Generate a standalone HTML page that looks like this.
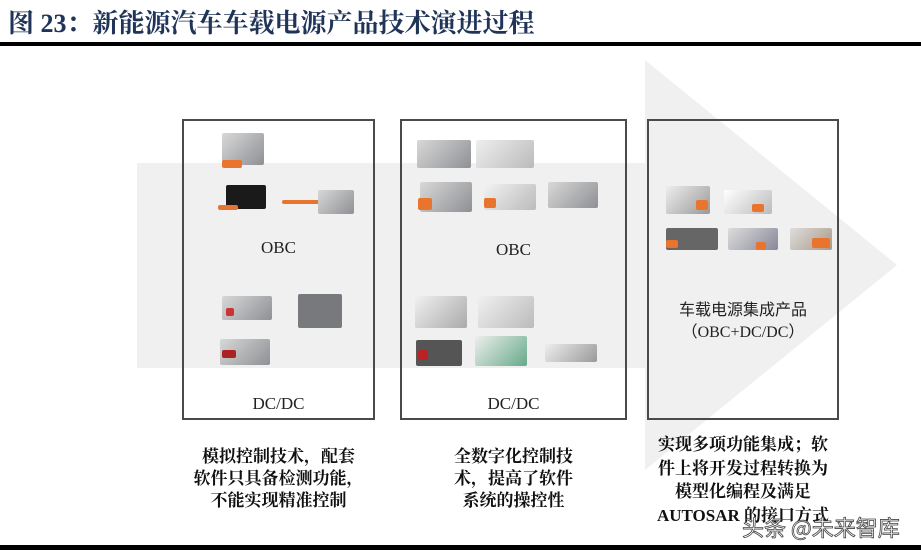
<!DOCTYPE html>
<html><head><meta charset="utf-8"><style>
body{margin:0;width:921px;height:556px;background:#fff;position:relative;overflow:hidden;font-family:"Liberation Serif","Noto Serif CJK SC",serif}
.a{position:absolute}
.box{position:absolute;border:2px solid #4a4a4a;box-sizing:border-box}
.t{position:absolute;text-align:center;color:#222;font-size:17px}
.cap{position:absolute;text-align:center;font-weight:bold;font-size:17px;line-height:22px;color:#111;font-family:"Liberation Serif","Noto Serif CJK SC",serif;white-space:nowrap}
.p{position:absolute;background:linear-gradient(135deg,#d8d8d8,#8e9094);border-radius:2px}
.o{position:absolute;background:#e8742e;border-radius:2px}
</style></head><body>
<div class="a" style="left:8px;top:3px;font-size:26px;font-weight:bold;color:#1f3458;font-family:'Liberation Serif','Noto Serif CJK SC',serif;white-space:nowrap">图 23：新能源汽车车载电源产品技术演进过程</div>
<div class="a" style="left:0;top:42px;width:921px;height:4px;background:#000"></div>
<svg class="a" style="left:0;top:0" width="921" height="556"><polygon points="137,163 645,163 645,60 897,265 645,470 645,368 137,368" fill="#f0f0f0"/></svg>
<div class="box" style="left:182px;top:119px;width:193px;height:301px"></div>
<div class="box" style="left:400px;top:119px;width:227px;height:301px"></div>
<div class="box" style="left:647px;top:119px;width:192px;height:301px"></div>
<div class="p" style="left:222px;top:133px;width:42px;height:32px"></div><div class="o" style="left:222px;top:160px;width:20px;height:8px"></div>
<div class="p" style="left:226px;top:185px;width:40px;height:24px;background:#1a1a1a"></div><div class="o" style="left:218px;top:205px;width:20px;height:5px"></div>
<div class="o" style="left:282px;top:200px;width:40px;height:4px"></div><div class="p" style="left:318px;top:190px;width:36px;height:24px"></div>
<div class="p" style="left:222px;top:296px;width:50px;height:24px"></div><div class="o" style="left:226px;top:308px;width:8px;height:8px;background:#c33"></div>
<div class="p" style="left:298px;top:294px;width:44px;height:34px;background:#77797c"></div>
<div class="p" style="left:220px;top:339px;width:50px;height:26px"></div><div class="o" style="left:222px;top:350px;width:14px;height:8px;background:#a22"></div>
<div class="t" style="left:182px;top:238px;width:193px">OBC</div>
<div class="t" style="left:182px;top:394px;width:193px">DC/DC</div>
<div class="p" style="left:417px;top:140px;width:54px;height:28px"></div>
<div class="p" style="left:476px;top:140px;width:58px;height:28px;background:linear-gradient(135deg,#eee,#bbb)"></div>
<div class="p" style="left:420px;top:182px;width:52px;height:30px"></div><div class="o" style="left:418px;top:198px;width:14px;height:12px"></div>
<div class="p" style="left:484px;top:184px;width:52px;height:26px;background:linear-gradient(135deg,#f2f2f2,#bbb)"></div><div class="o" style="left:484px;top:198px;width:12px;height:10px"></div>
<div class="p" style="left:548px;top:182px;width:50px;height:26px"></div>
<div class="t" style="left:400px;top:240px;width:227px">OBC</div>
<div class="p" style="left:415px;top:296px;width:52px;height:32px;background:linear-gradient(135deg,#f0f0f0,#aaa)"></div>
<div class="p" style="left:478px;top:296px;width:56px;height:32px;background:linear-gradient(135deg,#f0f0f0,#bbb)"></div>
<div class="p" style="left:416px;top:340px;width:46px;height:26px;background:#555"></div><div class="o" style="left:418px;top:350px;width:10px;height:10px;background:#b22"></div>
<div class="p" style="left:475px;top:336px;width:52px;height:30px;background:linear-gradient(135deg,#eee,#6a8)"></div>
<div class="p" style="left:545px;top:344px;width:52px;height:18px;background:linear-gradient(135deg,#eee,#999)"></div>
<div class="t" style="left:400px;top:394px;width:227px">DC/DC</div>
<div class="p" style="left:666px;top:186px;width:44px;height:28px;background:linear-gradient(135deg,#eee,#999)"></div><div class="o" style="left:696px;top:200px;width:12px;height:10px"></div>
<div class="p" style="left:724px;top:190px;width:48px;height:24px;background:linear-gradient(135deg,#fff,#bbb)"></div><div class="o" style="left:752px;top:204px;width:12px;height:8px"></div>
<div class="p" style="left:666px;top:228px;width:52px;height:22px;background:#666"></div><div class="o" style="left:666px;top:240px;width:12px;height:8px"></div>
<div class="p" style="left:728px;top:228px;width:50px;height:22px;background:linear-gradient(135deg,#ddd,#889)"></div><div class="o" style="left:756px;top:242px;width:10px;height:8px"></div>
<div class="p" style="left:790px;top:228px;width:42px;height:22px;background:linear-gradient(135deg,#ddd,#a98)"></div><div class="o" style="left:812px;top:238px;width:18px;height:10px"></div>
<div class="t" style="left:647px;top:300px;width:192px;font-size:16px;line-height:22px;font-family:'Liberation Serif','Noto Sans CJK SC',serif">车载电源集成产品<br>（OBC+DC/DC）</div>
<div class="cap" style="left:182px;top:446px;width:193px">模拟控制技术，配套<br>软件只具备检测功能，<br>不能实现精准控制</div>
<div class="cap" style="left:430px;top:446px;width:167px">全数字化控制技<br>术，提高了软件<br>系统的操控性</div>
<div class="cap" style="left:640px;top:433px;width:206px;line-height:23.5px">实现多项功能集成；软<br>件上将开发过程转换为<br>模型化编程及满足<br>AUTOSAR 的接口方式</div>
<div class="a" style="left:742px;top:511px;font-size:22px;color:#fff;font-family:'Noto Sans CJK SC',sans-serif;-webkit-text-stroke:0.8px #444">头条 @未来智库</div>
<div class="a" style="left:0;top:545px;width:921px;height:5px;background:#000"></div>
</body></html>
